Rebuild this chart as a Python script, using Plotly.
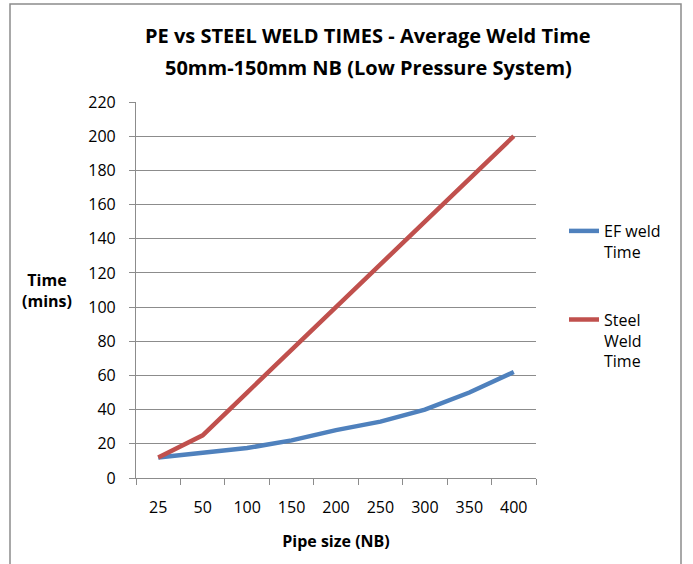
import plotly.graph_objects as go

categories = ["25", "50", "100", "150", "200", "250", "300", "350", "400"]
ef_weld_time = [12, 14.5, 17.5, 22, 28, 33, 40, 50, 62]
steel_weld_time = [12, 25, 50, 75, 100, 125, 150, 175, 200]
y_ticks = list(range(0, 221, 20))

FONT = "Open Sans"
GRID = "#8c8c8c"

fig = go.Figure()
fig.add_trace(go.Scatter(x=categories, y=ef_weld_time, mode="lines",
                         name="EF weld<br>Time", legendgroup="a",
                         line=dict(color="#4F81BD", width=4.5)))
fig.add_trace(go.Scatter(x=categories, y=steel_weld_time, mode="lines",
                         name="Steel<br>Weld<br>Time", legendgroup="b",
                         line=dict(color="#C0504D", width=4.5)))

W, H = 693, 564
L, R, T, B = 136, 157, 102, 86
plot_w = W - L - R
plot_h = H - T - B
def px_x(p):
    return (p - L) / plot_w
def px_y(p):
    return (H - B - p) / plot_h

fig.update_layout(
    width=W, height=H,
    margin=dict(l=L, r=R, t=T, b=B),
    paper_bgcolor="white", plot_bgcolor="white",
    font=dict(family=FONT, size=14, color="black"),
    showlegend=True,
    legend=dict(x=px_x(564), xanchor="left", y=px_y(214), yanchor="top",
                font=dict(family=FONT, size=16, color="black"),
                tracegroupgap=44, valign="top", bgcolor="rgba(0,0,0,0)"),
    xaxis=dict(type="category", categoryorder="array", categoryarray=categories,
               range=[-0.5, 8.5], showgrid=False, showline=True, linecolor=GRID,
               linewidth=1.2, ticks="outside", tickson="boundaries", ticklen=6,
               tickcolor=GRID, tickfont=dict(size=16), zeroline=False,
               ticklabelstandoff=15,
               title=dict(text="<b>Pipe size (NB)</b>", font=dict(size=16), standoff=18)),
    yaxis=dict(range=[0, 220], tickvals=y_ticks, showgrid=True, gridcolor=GRID,
               gridwidth=1.2, showline=True, linecolor=GRID, linewidth=1.2,
               ticks="outside", ticklen=6, tickcolor=GRID, tickfont=dict(size=16),
               ticklabelstandoff=10, zeroline=False),
)

title_lines = ["PE vs STEEL WELD TIMES - Average Weld Time",
               "50mm-150mm NB (Low Pressure System)"]
for txt, ypx in zip(title_lines, [35, 68]):
    fig.add_annotation(text="<b>" + txt + "</b>", xref="paper", yref="paper",
                       x=px_x(368), y=px_y(ypx), xanchor="center", yanchor="middle",
                       showarrow=False, font=dict(family=FONT, size=20, color="black"))

fig.add_annotation(text="<b>Time<br>(mins)</b>", xref="paper", yref="paper",
                   x=px_x(47), y=px_y(290), xanchor="center", yanchor="middle",
                   showarrow=False,
                   font=dict(family=FONT, size=16, color="black"), align="center")

fig.add_shape(type="rect", xref="paper", yref="paper",
              x0=px_x(10), x1=px_x(681), y0=px_y(575), y1=px_y(4),
              line=dict(color="#8c8c8c", width=1.5), fillcolor="rgba(0,0,0,0)",
              layer="below")

fig.write_html("out.html", config={"displayModeBar": False},
               post_script="document.body.style.margin='0';")
